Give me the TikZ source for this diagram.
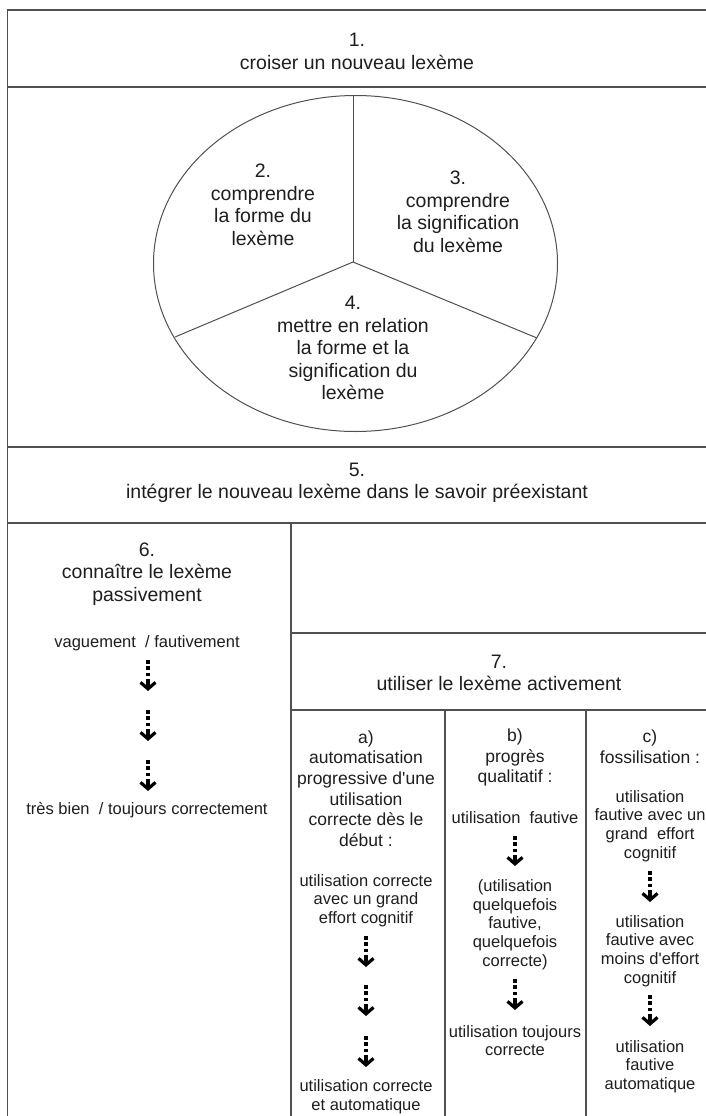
\documentclass[tikz,border=0pt]{standalone}
\usepackage{fontspec}
\setmainfont{Liberation Sans}
\usetikzlibrary{arrows.meta}
\definecolor{linegray}{HTML}{505050}
\definecolor{textdark}{HTML}{1E1E1E}
\begin{document}
\begin{tikzpicture}[x=1pt,y=-1pt,
  frame/.style={draw=linegray, line width=1.3pt},
  thinframe/.style={draw=linegray, line width=1pt},
  big/.style={font=\fontsize{19.5}{22.5}\selectfont, align=center, text=textdark, inner sep=0pt},
  colhead/.style={font=\fontsize{17.5}{20.6}\selectfont, align=center, text=textdark, inner sep=0pt},
  small/.style={font=\fontsize{16.5}{18.7}\selectfont, align=center, text=textdark, inner sep=0pt},
  dotarrow/.style={draw=black, line width=3.4pt,
    dash pattern=on 3.6pt off 2.8pt on 3.6pt off 2.8pt on 3.6pt off 3pt on 40pt off 1pt,
    -{Straight Barb[length=6.5pt, width=15pt, line width=3.2pt]}}
]
\useasboundingbox (0,0) rectangle (706,1116);
\fill[white] (0,0) rectangle (706,1116);

% frame lines
\draw[frame] (7.5,1116) -- (7.5,10) -- (706,10);
\draw[frame] (7.5,87) -- (706,87);
\draw[frame] (7.5,447) -- (706,447);
\draw[frame] (7.5,523) -- (706,523);
\draw[frame] (291,523) -- (291,1116);
\draw[frame] (291,633) -- (706,633);
\draw[frame] (291,710) -- (706,710);
\draw[frame] (445,710) -- (445,1116);
\draw[frame] (586,710) -- (586,1116);

% ellipse with three sectors
\coordinate (ec) at (353,262);
\coordinate (etop) at (353,95.5);
\coordinate (eleft) at (175,337);
\coordinate (eright) at (537,338);
\draw[thinframe] (355.5,263.5) ellipse [x radius=202, y radius=168];
\draw[thinframe] (etop) -- (ec);
\draw[thinframe] (eleft) -- (ec) -- (eright);

% texts
\node[big] (n1) at (357,51.5) {1.\\croiser un nouveau lexème};
\node[big] (n2) at (263,205) {2.\\comprendre\\la forme du\\lexème};
\node[big] (n3) at (458,212) {3.\\comprendre\\la signification\\du lexème};
\node[big] (n4) at (353,348) {4.\\mettre en relation\\la forme et la\\signification du\\lexème};
\node[big] (n5) at (357,483) {5.\\intégrer le nouveau lexème dans le savoir préexistant};
\node[big] (n6) at (147,574) {6.\\connaître le lexème\\passivement};
\node[small] (vag) at (147,643) {vaguement\ \ / fautivement};
\node[small] (tres) at (147,810) {très bien\ \ / toujours correctement};
\node[big] (n7) at (499,673) {7.\\utiliser le lexème activement};

\node[colhead] (ah) at (366,788.5) {a)\\automatisation\\progressive d\textquotesingle une\\utilisation\\correcte dès le\\début :};
\node[small] (a1) at (366,900.5) {utilisation correcte\\avec un grand\\effort cognitif};
\node[small] (a2) at (366,1096.5) {utilisation correcte\\et automatique};

\node[colhead] (bh) at (515,757.5) {b)\\progrès\\qualitatif :};
\node[small] (b1) at (515,818) {utilisation\ \ fautive};
\node[small] (b2) at (515,924.5) {(utilisation\\quelquefois\\fautive,\\quelquefois\\correcte)};
\node[small] (b3) at (515,1040.5) {utilisation toujours\\correcte};

\node[colhead] (ch) at (650,747) {c)\\fossilisation :};
\node[small] (c1) at (650,826) {utilisation\\fautive avec un\\grand\ \ effort\\cognitif};
\node[small] (c2) at (650,951) {utilisation\\fautive avec\\moins d\textquotesingle effort\\cognitif};
\node[small] (c3) at (650,1066.5) {utilisation\\fautive\\automatique};

% dotted arrows
\coordinate (l1s) at (148,660); \coordinate (l1e) at (148,691);
\coordinate (l2s) at (148,710); \coordinate (l2e) at (148,741);
\coordinate (l3s) at (148,760); \coordinate (l3e) at (148,791);
\draw[dotarrow] (l1s) -- (l1e);
\draw[dotarrow] (l2s) -- (l2e);
\draw[dotarrow] (l3s) -- (l3e);

\coordinate (a1s) at (366,936); \coordinate (a1e) at (366,967);
\coordinate (a2s) at (366,985); \coordinate (a2e) at (366,1016);
\coordinate (a3s) at (366,1036); \coordinate (a3e) at (366,1067);
\draw[dotarrow] (a1s) -- (a1e);
\draw[dotarrow] (a2s) -- (a2e);
\draw[dotarrow] (a3s) -- (a3e);

\coordinate (b1s) at (515,836); \coordinate (b1e) at (515,866);
\coordinate (b2s) at (515,979); \coordinate (b2e) at (515,1010);
\draw[dotarrow] (b1s) -- (b1e);
\draw[dotarrow] (b2s) -- (b2e);

\coordinate (c1s) at (650,871); \coordinate (c1e) at (650,902);
\coordinate (c2s) at (650,995); \coordinate (c2e) at (650,1026);
\draw[dotarrow] (c1s) -- (c1e);
\draw[dotarrow] (c2s) -- (c2e);
\end{tikzpicture}
\end{document}
